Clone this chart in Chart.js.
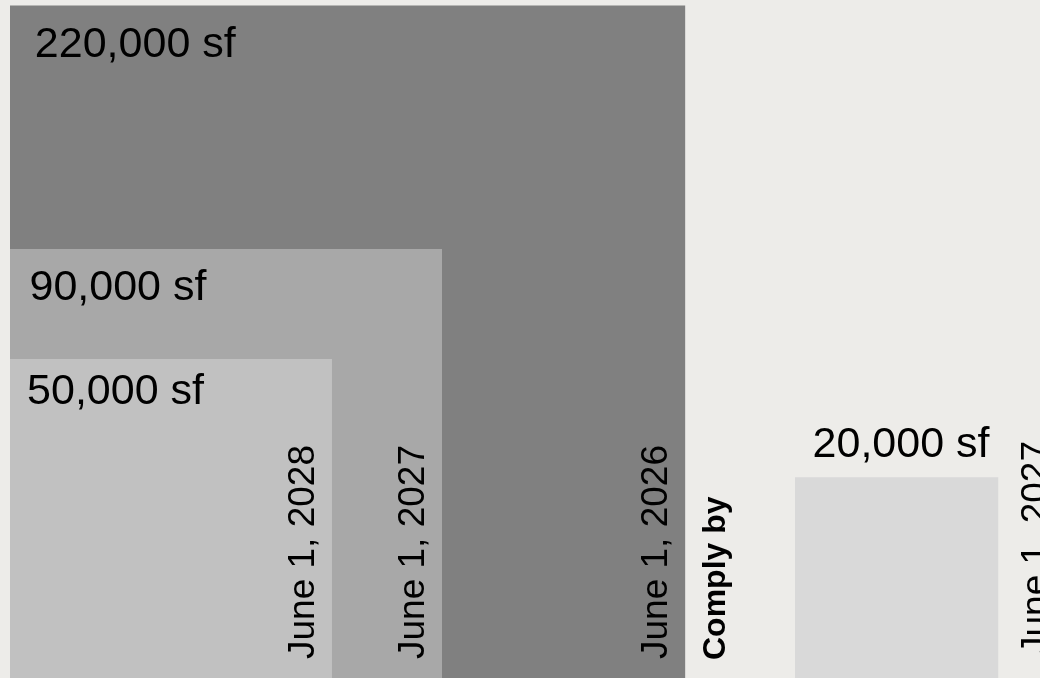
<!DOCTYPE html>
<html>
<head>
<meta charset="utf-8">
<script src="https://cdn.jsdelivr.net/npm/chart.js@4/dist/chart.umd.min.js"></script>
<style>
   html, body { margin: 0; padding: 0; background: #edece9; }
   #wrap { width: 1040px; height: 678px; }
</style>
</head>
<body>
<div id="wrap"><canvas id="chart-squares" width="1040" height="678"></canvas></div>
<script>
// square feet per building size, the side of each square is sqrt(area)
const areas = [50000, 90000, 220000, 20000];
const areaLabels = ["50,000 sf", "90,000 sf", "220,000 sf", "20,000 sf"];
const complyDates = ["June 1, 2028", "June 1, 2027", "June 1, 2026", "June 1, 2027"];
const squareColors = ["#c1c1c1", "#a8a8a8", "#808080", "#d9d9d9"];
const complyTitle = "Comply by";

// gap (in sqrt-sf units) between the nested group and the lone square
const groupGap = 76;
// pixels per sqrt-sf unit
const pxPerUnit = 1.44;

function rotatedText(c, text, x, y) {
   c.save();
   c.translate(x, y);
   c.rotate(-Math.PI / 2);
   c.textAlign = "left";
   c.textBaseline = "alphabetic";
   c.fillText(text, 0, 0);
   c.restore();
}

var labelsPlugin = {
   id: "squareLabels",
   afterDatasetsDraw: function (chart) {
      var c = chart.ctx;
      var xs = chart.scales.x;
      var ys = chart.scales.y;
      var bottom = chart.chartArea.bottom;
      var bigRight = 0;
      c.save();
      c.fillStyle = "#000";
      chart.data.datasets.forEach(function (ds, i) {
         var left = xs.getPixelForValue(ds.data[0].x);
         var right = xs.getPixelForValue(ds.data[1].x);
         var top = ys.getPixelForValue(ds.data[0].y);
         var side = right - left;
         if (i === 2) bigRight = right;
         c.font = "43px 'Liberation Sans', Arial, sans-serif";
         if (i === 3) {
            c.textAlign = "right";
            c.fillText(areaLabels[i], right - 9, top - 20);
            c.textAlign = "left";
            c.font = "37px 'Liberation Sans', Arial, sans-serif";
            rotatedText(c, complyDates[i], right + 48, bottom - 23);
         } else {
            c.textAlign = "left";
            var drop = Math.min(51, 45 + (side - 321) * 0.06);
            c.fillText(areaLabels[i], left + 10 + side * 0.022, top + drop);
            c.font = "37px 'Liberation Sans', Arial, sans-serif";
            rotatedText(c, complyDates[i], right - 18, bottom - 19);
         }
      });
      c.font = "bold 32px 'Liberation Sans', Arial, sans-serif";
      rotatedText(c, complyTitle, bigRight + 40, bottom - 18);
      c.restore();
   },
};

function drawSquares() {
   var ctx = document.getElementById("chart-squares").getContext("2d");
   var bigSide = Math.sqrt(Math.max.apply(null, areas));
   var datasets = areas.map(function (a, i) {
      var side = Math.sqrt(a);
      var start = i === 3 ? bigSide + groupGap : 0;
      return {
         label: areaLabels[i],
         data: [
            { x: start, y: side },
            { x: start + side, y: side },
         ],
         showLine: true,
         fill: "origin",
         backgroundColor: squareColors[i],
         borderColor: "rgba(0,0,0,0)",
         borderWidth: 0,
         pointRadius: 0,
         pointHoverRadius: 0,
         tension: 0,
      };
   });

   // chart area is 1030 x 673 px, the squares run a little past the bottom edge
   var yMin = 3 / pxPerUnit;
   var yMax = yMin + 673 / pxPerUnit;
   var xMax = 1030 / pxPerUnit;

   window.grafica = new Chart(ctx, {
      type: "scatter",
      data: { datasets: datasets },
      plugins: [labelsPlugin],
      options: {
         responsive: false,
         animation: false,
         events: [],
         layout: { padding: { left: 10, top: 5, right: 0, bottom: 0 } },
         plugins: {
            legend: { display: false },
            tooltip: { enabled: false },
         },
         scales: {
            x: { type: "linear", min: 0, max: xMax, display: false },
            y: { type: "linear", min: yMin, max: yMax, display: false },
         },
      },
   });
}

drawSquares();
</script>
</body>
</html>
